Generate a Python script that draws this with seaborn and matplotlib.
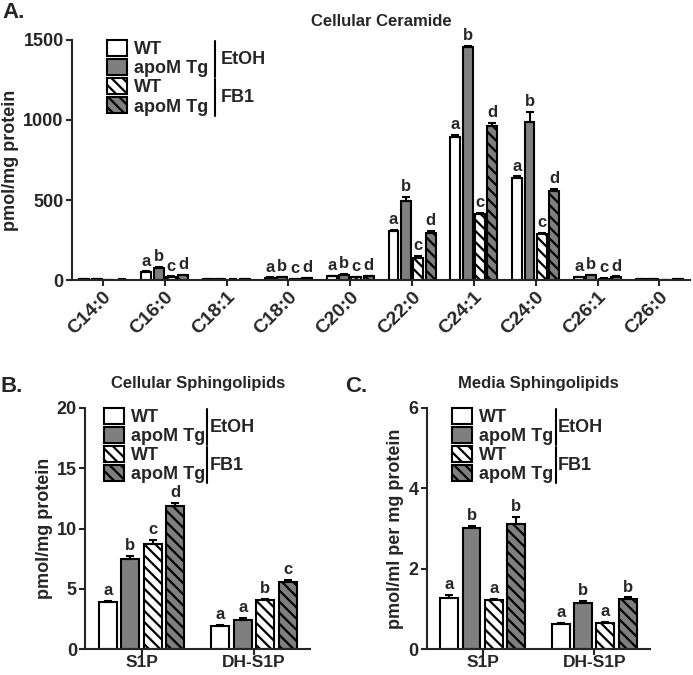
import numpy as np
import pandas as pd
import seaborn as sns
import matplotlib.pyplot as plt
from matplotlib.patches import Patch

sns.set_style('ticks')
plt.rcParams['font.family'] = ['Liberation Sans', 'DejaVu Sans']
plt.rcParams['font.weight'] = 'bold'
plt.rcParams['hatch.linewidth'] = 1.6

# ------------------------------------------------------------
# Data
# ------------------------------------------------------------
conditions = ['WT EtOH', 'apoM Tg EtOH', 'WT FB1', 'apoM Tg FB1']

# Panel A: cellular ceramide species
ceramides = ['C14:0', 'C16:0', 'C18:1', 'C18:0', 'C20:0',
             'C22:0', 'C24:1', 'C24:0', 'C26:1', 'C26:0']
cer_wt_etoh = [4, 50, 5, 15, 25, 305, 895, 635, 18, 4]
cer_tg_etoh = [4, 75, 5, 20, 35, 495, 1455, 990, 30, 4]
cer_wt_fb1 = [1, 20, 3, 8, 18, 140, 410, 285, 10, 1]
cer_tg_fb1 = [3, 30, 4, 12, 25, 295, 960, 555, 20, 4]
cer_err_wt_etoh = [1, 5, 1, 2, 3, 10, 10, 12, 3, 1]
cer_err_tg_etoh = [1, 6, 1, 2, 3, 25, 8, 60, 3, 1]
cer_err_wt_fb1 = [0.5, 3, 1, 1, 2, 10, 12, 8, 2, 0.5]
cer_err_tg_fb1 = [1, 4, 1, 2, 3, 10, 20, 15, 3, 1]
cer_letters = [None, 'abcd', None, 'abcd', 'abcd', 'abcd', 'abcd', 'abcd', 'abcd', None]

# Panel B: cellular sphingolipids
lipids = ['S1P', 'DH-S1P']
cell_wt_etoh = [3.9, 1.95]
cell_tg_etoh = [7.5, 2.45]
cell_wt_fb1 = [8.7, 4.05]
cell_tg_fb1 = [11.9, 5.55]
cell_err_wt_etoh = [0.1, 0.05]
cell_err_tg_etoh = [0.25, 0.15]
cell_err_wt_fb1 = [0.35, 0.1]
cell_err_tg_fb1 = [0.25, 0.2]
cell_letters = ['abcd', 'aabc']

# Panel C: media sphingolipids
media_wt_etoh = [1.28, 0.62]
media_tg_etoh = [3.02, 1.15]
media_wt_fb1 = [1.22, 0.65]
media_tg_fb1 = [3.10, 1.25]
media_err_wt_etoh = [0.08, 0.04]
media_err_tg_etoh = [0.05, 0.06]
media_err_wt_fb1 = [0.03, 0.04]
media_err_tg_fb1 = [0.18, 0.04]
media_letters = ['abab', 'abab']

GREY = '#7f7f7f'
fills = ['white', GREY, 'white', GREY]
hatches = [None, None, '\\\\\\', '\\\\\\']


def long_table(groups, series, errors):
    """Stack the four series into one long-form table."""
    rows = []
    for cond, vals, errs in zip(conditions, series, errors):
        for g, v, e in zip(groups, vals, errs):
            rows.append({'group': g, 'condition': cond, 'value': v, 'err': e})
    return pd.DataFrame(rows)


def bar_panel(ax, df, groups, letters, letter_size, lw):
    """Grouped bars with upper error bars and letters on top."""
    sns.barplot(data=df, x='group', y='value', hue='condition',
                order=groups, hue_order=conditions, palette=fills,
                edgecolor='black', linewidth=lw, gap=0.2, errorbar=None,
                legend=False, ax=ax)
    bar_conts = list(ax.containers)
    for k, cont in enumerate(bar_conts):
        sub = df[df['condition'] == conditions[k]].set_index('group').loc[groups]
        xs = [p.get_x() + p.get_width() / 2 for p in cont.patches]
        for p in cont.patches:
            if hatches[k]:
                p.set_hatch(hatches[k])
        ax.errorbar(xs, sub['value'], yerr=[np.zeros(len(xs)), sub['err']],
                    fmt='none', ecolor='black', elinewidth=lw, capsize=3,
                    capthick=lw, zorder=1)
        for i, x in enumerate(xs):
            if letters[i]:
                ax.annotate(letters[i][k], (x, sub['value'].iloc[i] + sub['err'].iloc[i]),
                            xytext=(0, 2), textcoords='offset points',
                            ha='center', va='bottom', fontsize=letter_size,
                            fontweight='bold')


def style_axes(ax, ylim, yticks, ylabel):
    ax.set_ylim(*ylim)
    ax.set_yticks(yticks)
    ax.set_xlabel('')
    ax.set_ylabel(ylabel, fontsize=13, fontweight='bold', labelpad=3)
    sns.despine(ax=ax)
    for s in ['left', 'bottom']:
        ax.spines[s].set_linewidth(1.5)
    ax.tick_params(direction='out', length=4, width=1.5, labelsize=13, pad=2)


def add_legend(fig, ax, x0, fontsize):
    handles = [Patch(facecolor=f, edgecolor='black', hatch=h, linewidth=1.5)
               for f, h in zip(fills, hatches)]
    leg = ax.legend(handles, ['WT', 'apoM Tg', 'WT', 'apoM Tg'],
                    loc='upper left', bbox_to_anchor=(x0, 1.03), frameon=False,
                    fontsize=fontsize, handlelength=1.1, handleheight=1.0,
                    labelspacing=0.05, handletextpad=0.4, borderaxespad=0)
    fig.canvas.draw()
    inv = ax.transAxes.inverted()
    boxes = [inv.transform(t.get_window_extent()) for t in leg.get_texts()]
    xr = max(b[1][0] for b in boxes) + 0.01
    for (top, bot), name in zip([(0, 1), (2, 3)], ['EtOH', 'FB1']):
        y1, y0 = boxes[top][1][1], boxes[bot][0][1]
        ax.plot([xr, xr], [y0, y1], color='black', lw=1.5,
                transform=ax.transAxes, clip_on=False)
        ax.text(xr + 0.01, (y0 + y1) / 2, name, transform=ax.transAxes,
                ha='left', va='center', fontsize=fontsize, fontweight='bold')


fig = plt.figure(figsize=(6.93, 6.75), dpi=100)
ax_a = fig.add_axes([0.104, 0.585, 0.892, 0.356])
ax_b = fig.add_axes([0.123, 0.038, 0.325, 0.358])
ax_c = fig.add_axes([0.616, 0.038, 0.322, 0.358])

# Panel A
df_a = long_table(ceramides,
                  [cer_wt_etoh, cer_tg_etoh, cer_wt_fb1, cer_tg_fb1],
                  [cer_err_wt_etoh, cer_err_tg_etoh, cer_err_wt_fb1, cer_err_tg_fb1])
bar_panel(ax_a, df_a, ceramides, cer_letters, 12, 1.5)
style_axes(ax_a, (0, 1500), [0, 500, 1000, 1500], 'pmol/mg protein')
ax_a.set_xlim(-0.5, 9.5)
plt.setp(ax_a.get_xticklabels(), rotation=45, ha='right', rotation_mode='anchor',
         fontsize=14)
ax_a.set_title('Cellular Ceramide', fontsize=12, fontweight='bold', pad=10)
add_legend(fig, ax_a, 0.045, 13)

# Panel B
df_b = long_table(lipids,
                  [cell_wt_etoh, cell_tg_etoh, cell_wt_fb1, cell_tg_fb1],
                  [cell_err_wt_etoh, cell_err_tg_etoh, cell_err_wt_fb1, cell_err_tg_fb1])
bar_panel(ax_b, df_b, lipids, cell_letters, 12, 1.5)
style_axes(ax_b, (0, 20), [0, 5, 10, 15, 20], 'pmol/mg protein')
ax_b.set_xlim(-0.5, 1.5)
ax_b.tick_params(axis='x', pad=0, labelsize=12.5)
ax_b.set_title('Cellular Sphingolipids', fontsize=12, fontweight='bold', pad=14)
add_legend(fig, ax_b, 0.05, 13)

# Panel C
df_c = long_table(lipids,
                  [media_wt_etoh, media_tg_etoh, media_wt_fb1, media_tg_fb1],
                  [media_err_wt_etoh, media_err_tg_etoh, media_err_wt_fb1, media_err_tg_fb1])
bar_panel(ax_c, df_c, lipids, media_letters, 12, 1.5)
style_axes(ax_c, (0, 6), [0, 2, 4, 6], 'pmol/ml per mg protein')
ax_c.set_xlim(-0.5, 1.5)
ax_c.tick_params(axis='x', pad=0, labelsize=12.5)
ax_c.set_title('Media Sphingolipids', fontsize=12, fontweight='bold', pad=14)
add_legend(fig, ax_c, 0.08, 13)

# Panel letters
fig.text(0.003, 0.997, 'A.', fontsize=16, fontweight='bold', va='top')
fig.text(0.0, 0.443, 'B.', fontsize=16, fontweight='bold', va='top')
fig.text(0.498, 0.443, 'C.', fontsize=16, fontweight='bold', va='top')

fig.savefig('out.png', dpi=100)
